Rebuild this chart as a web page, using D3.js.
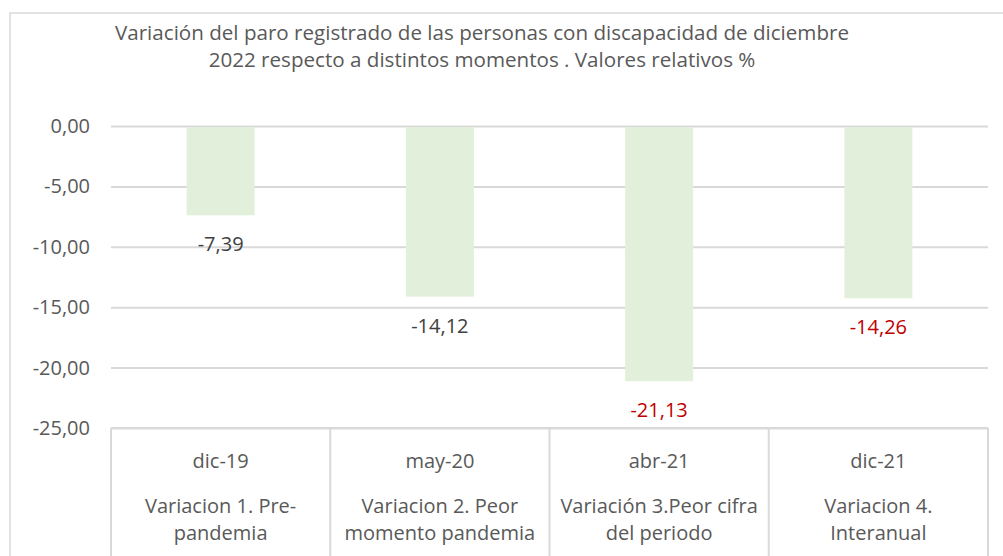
<!DOCTYPE html>
<html><head><meta charset="utf-8">
<script src="https://cdn.jsdelivr.net/npm/d3@7"></script>
<style>body{margin:0;background:#fff}svg{display:block}text{font-family:"Open Sans",sans-serif}</style>
</head><body><svg id="c" width="1003" height="556"></svg>
<script>
const categories = ["dic-19","may-20","abr-21","dic-21"];
const subLabels = [["Variacion 1. Pre-","pandemia"],["Variacion 2. Peor","momento pandemia"],["Variación 3.Peor cifra","del periodo"],["Variacion 4.","Interanual"]];
const values = [-7.39,-14.12,-21.13,-14.26];
const labelColors = ["#404040","#404040","#C00000","#C00000"];
const yTicks = [0,-5,-10,-15,-20,-25];
const titleLines = ["Variación del paro registrado de las personas con discapacidad de diciembre","2022 respecto a distintos momentos . Valores relativos %"];

const svg = d3.select("#c");
const fmt = v => v.toFixed(2).replace(".", ",");
const pL = 111, pR = 988, pT = 126, pB = 428;
const FS = 20;
const x = d3.scaleBand().domain(categories).range([pL,pR]).paddingInner(0.69).paddingOuter(0.345);
const xc = d3.scaleBand().domain(categories).range([pL,pR]);
const y = d3.scaleLinear().domain([0,-25]).range([pT,pB]);

// outer border
svg.append("rect").attr("x",10).attr("y",13).attr("width",1003).attr("height",600)
  .attr("fill","none").attr("stroke","#d9d9d9").attr("stroke-width",1.5);

// title
svg.append("g").selectAll("text").data(titleLines).join("text")
  .attr("x",482).attr("y",(d,i)=>40+i*27).attr("text-anchor","middle")
  .attr("font-size",20.6).attr("fill","#595959").text(d=>d);

// gridlines
const yAxis = d3.axisLeft(y).tickValues(yTicks).tickSize(-(pR-pL)).tickFormat(fmt);
const ga = svg.append("g").attr("transform",`translate(${pL},0)`).call(yAxis);
ga.select(".domain").remove();
ga.selectAll(".tick line").attr("stroke","#d9d9d9").attr("stroke-width",2);
ga.selectAll(".tick text").attr("x",-21).attr("font-size",FS).attr("fill","#595959").attr("font-family","Open Sans");

// bars
svg.append("g").selectAll("rect").data(values).join("rect")
  .attr("x",(d,i)=>x(categories[i])).attr("width",x.bandwidth())
  .attr("y",y(0)+1).attr("height",d=>y(d)-y(0)-1).attr("fill","#E2EFDA");

// data labels
svg.append("g").selectAll("text").data(values).join("text")
  .attr("x",(d,i)=>x(categories[i])+x.bandwidth()/2).attr("y",d=>y(d)+36)
  .attr("text-anchor","middle").attr("font-size",FS).attr("fill",(d,i)=>labelColors[i]).text(fmt);

// category table
const tbl = svg.append("g");
tbl.append("line").attr("x1",pL).attr("x2",pR).attr("y1",pB).attr("y2",pB).attr("stroke","#d9d9d9").attr("stroke-width",2);
const bounds = categories.map(c=>xc(c)).concat([pR]);
tbl.selectAll("line.v").data(bounds).join("line").attr("class","v")
  .attr("x1",d=>d).attr("x2",d=>d).attr("y1",pB).attr("y2",556).attr("stroke","#d9d9d9").attr("stroke-width",2);
tbl.selectAll("text.cat").data(categories).join("text").attr("class","cat")
  .attr("x",d=>xc(d)+xc.bandwidth()/2).attr("y",468).attr("text-anchor","middle")
  .attr("font-size",FS).attr("fill","#595959").text(d=>d);
categories.forEach((c,i)=>{
  tbl.selectAll(null).data(subLabels[i]).join("text")
    .attr("x",xc(c)+xc.bandwidth()/2).attr("y",(d,j)=>513+j*27).attr("text-anchor","middle")
    .attr("font-size",FS).attr("fill","#595959").text(d=>d);
});
</script></body></html>
